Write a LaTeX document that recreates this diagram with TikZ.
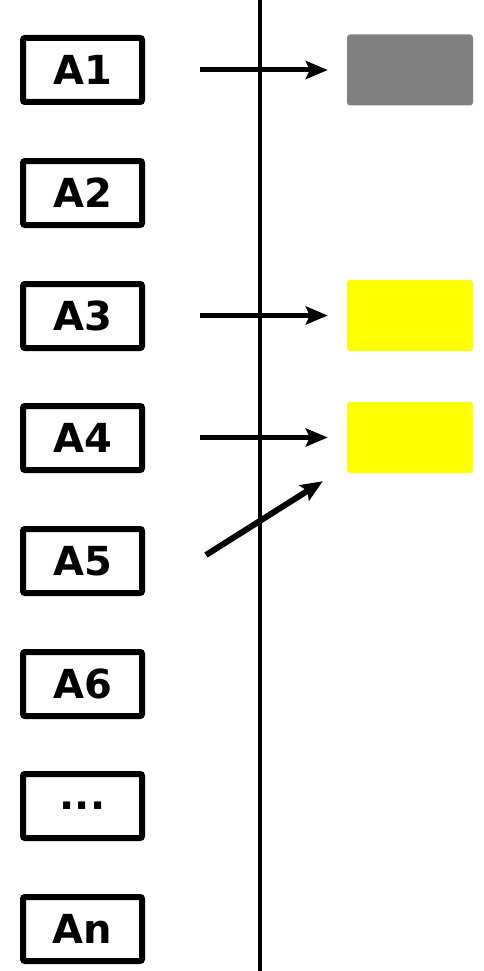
\documentclass[tikz,border=0pt]{standalone}
\usepackage{fontspec}
\setmainfont{DejaVu Sans}
\usepackage{tikz}
\usetikzlibrary{arrows.meta,positioning}
\definecolor{slotgray}{RGB}{128,128,128}
\definecolor{slotyellow}{RGB}{255,255,0}
\tikzset{
  entry/.style={draw=black, line width=6pt, rounded corners=2pt, minimum width=119pt, minimum height=64pt, inner sep=0pt, font=\fontsize{40}{42}\selectfont\bfseries},
  slot/.style={rounded corners=3pt, minimum width=126pt, minimum height=71pt, inner sep=0pt},
  ptr/.style={line width=5pt, -{Stealth[length=22pt,width=18pt,inset=4pt]}},
  divider/.style={line width=3.5pt}
}

\begin{document}
\begin{tikzpicture}[x=1pt,y=-1pt]
\useasboundingbox (0,0) rectangle (483,971);
\node[entry] (a1) at (82.5,70) {A1};
\node[entry] (a2) at (82.5,193) {A2};
\node[entry] (a3) at (82.5,316) {A3};
\node[entry] (a4) at (82.5,438) {A4};
\node[entry] (a5) at (82.5,561) {A5};
\node[entry] (a6) at (82.5,684) {A6};
\node[entry] (adots) at (82.5,806) {...};
\node[entry] (an) at (82.5,929) {An};
\node[slot, fill=slotgray] (t1) at (410,70) {};
\node[slot, fill=slotyellow] (t3) at (410,315.5) {};
\node[slot, fill=slotyellow] (t4) at (410,437.5) {};
\coordinate (top) at (260,0);
\coordinate (bot) at (260,971);
\draw[divider] (top) -- (bot);
\coordinate (s1) at (200,70);
\coordinate (s3) at (200,315.5);
\coordinate (s4) at (200,437.5);
\coordinate (s5) at (206,555);
\draw[ptr, shorten >=19pt] (s1) -- (t1.west);
\draw[ptr, shorten >=19pt] (s3) -- (t3.west);
\draw[ptr, shorten >=19pt] (s4) -- (t4.west);
\draw[ptr, line width=6pt] (s5) -- ([shift={(-24,8)}]t4.south west);
\end{tikzpicture}
\end{document}
